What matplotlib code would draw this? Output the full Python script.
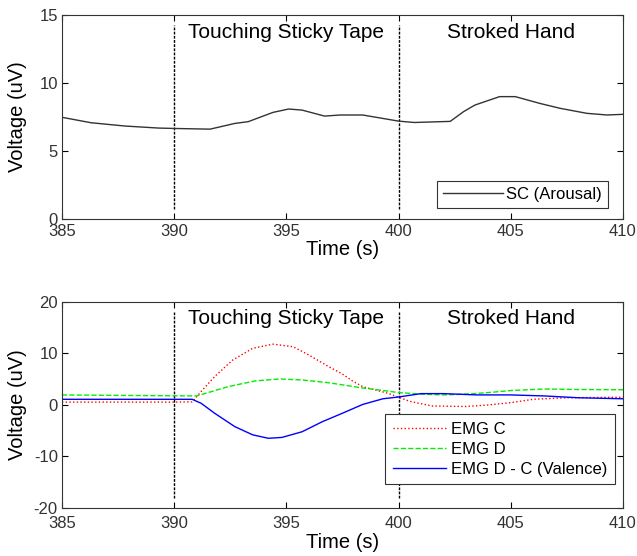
import numpy as np
import matplotlib
matplotlib.use("Agg")
import matplotlib.pyplot as plt

plt.rcParams["font.family"] = ["Liberation Sans", "DejaVu Sans"]
plt.rcParams["axes.unicode_minus"] = False

# -----------------------------
# Values
# -----------------------------
t_sc = [385, 386.3, 387.8, 389.3, 390, 391.6, 392.7, 393.3, 394.4, 395.1,
        395.7, 396.7, 397.4, 398.4, 400, 400.7, 402.3, 402.9, 403.4, 404.5,
        405.2, 406.3, 407.2, 408.4, 409.3, 410]
sc = [7.48, 7.08, 6.84, 6.69, 6.66, 6.61, 7.03, 7.16, 7.84, 8.09,
      8.01, 7.57, 7.65, 7.65, 7.2, 7.1, 7.18, 7.9, 8.38, 9.0,
      9.0, 8.5, 8.14, 7.77, 7.65, 7.7]

t_c = [385, 390, 390.8, 391.2, 391.8, 392.6, 393.5, 394.4, 395.3, 396,
       396.9, 397.5, 397.95, 398.4, 399.5, 400, 400.5, 401.5, 403, 404,
       405, 406, 407.5, 410]
emg_c = [0.55, 0.55, 0.6, 2.6, 5.5, 8.7, 11.0, 11.8, 11.3, 9.7,
         7.4, 6.0, 4.65, 3.55, 2.3, 1.5, 0.7, -0.2, -0.3, 0.0,
         0.45, 1.1, 1.4, 1.5]

t_d = [385, 391, 391.2, 392.4, 393.6, 394.7, 395.7, 396.9, 397.5, 398.4,
       399.5, 400, 401, 402, 403, 404, 405, 406.5, 408, 410]
emg_d = [1.94, 1.75, 2.0, 3.55, 4.66, 5.05, 4.85, 4.3, 3.9, 3.3,
         2.7, 2.4, 2.1, 1.95, 2.1, 2.4, 2.8, 3.1, 3.0, 2.95]

t_v = [385, 390.8, 391.2, 391.8, 392.7, 393.5, 394.2, 394.8, 395.7, 396.6,
       397.5, 398.4, 399.3, 400, 401, 402, 403.5, 405, 406.5, 408, 410]
valence = [1.1, 1.1, 0.33, -1.6, -4.2, -5.8, -6.47, -6.3, -5.2, -3.25,
           -1.6, 0.1, 1.2, 1.55, 2.2, 2.2, 1.95, 1.95, 1.75, 1.4, 1.2]

events = [390, 400]
event_labels = ["Touching Sticky Tape", "Stroked Hand"]
label_x = [395, 405]

# -----------------------------
# Figure
# -----------------------------
fig = plt.figure(figsize=(6.37, 5.56), dpi=100)
ax1 = fig.add_axes([0.0973, 0.606, 0.8807, 0.367])
ax2 = fig.add_axes([0.0973, 0.0863, 0.8807, 0.3707])


def style(ax, ylim, yticks, xpad):
    ax.set_xlim(385, 410)
    ax.set_ylim(*ylim)
    ax.set_xticks([385, 390, 395, 400, 405, 410])
    ax.set_yticks(yticks)
    ax.tick_params(direction="in", top=True, right=True, length=4,
                   labelsize=12, labelcolor="#333333")
    ax.tick_params(axis="x", pad=xpad)
    ax.tick_params(axis="y", pad=3)
    ax.set_xlabel("Time (s)", fontsize=14.5, labelpad=1)
    ax.set_ylabel("Voltage (uV)", fontsize=14.5)
    ax.yaxis.set_label_coords(-0.062, 0.5)
    for s in ax.spines.values():
        s.set_linewidth(0.8)
        s.set_color("#333333")
    for ev in events:
        ax.axvline(ev, ymin=0.05, ymax=0.95, color="k", ls=(0, (2, 1)), lw=1)


# top: skin conductance
style(ax1, (0, 15), [0, 5, 10, 15], 3.5)
ax1.plot(t_sc, sc, color="#333333", lw=1, label="SC (Arousal)")
for x, lab in zip(label_x, event_labels):
    ax1.text(x, 13.7, lab, ha="center", va="center", fontsize=15)
leg = ax1.legend(loc="lower right", bbox_to_anchor=(0.973, 0.054),
                 borderaxespad=0, fontsize=12, fancybox=False,
                 edgecolor="#333333", framealpha=1, handlelength=3.6,
                 handletextpad=0.2, borderpad=0.35)
leg.get_frame().set_linewidth(0.8)

# bottom: EMG
style(ax2, (-20, 20), [-20, -10, 0, 10, 20], 6)
ax2.plot(t_c, emg_c, color="#ff0000", ls=":", lw=1, label="EMG C")
ax2.plot(t_d, emg_d, color="#00ee00", ls="--", lw=1, label="EMG D")
ax2.plot(t_v, valence, color="#0000ff", lw=1, label="EMG D - C (Valence)")
for x, lab in zip(label_x, event_labels):
    ax2.text(x, 16.7, lab, ha="center", va="center", fontsize=15)
leg = ax2.legend(loc="lower right", bbox_to_anchor=(0.9857, 0.1165),
                 borderaxespad=0, fontsize=12, fancybox=False,
                 edgecolor="#333333", framealpha=1, handlelength=3.2,
                 handletextpad=0.3, borderpad=0.45, labelspacing=0.3)
leg.get_frame().set_linewidth(0.8)

fig.savefig("out.png", dpi=100)
